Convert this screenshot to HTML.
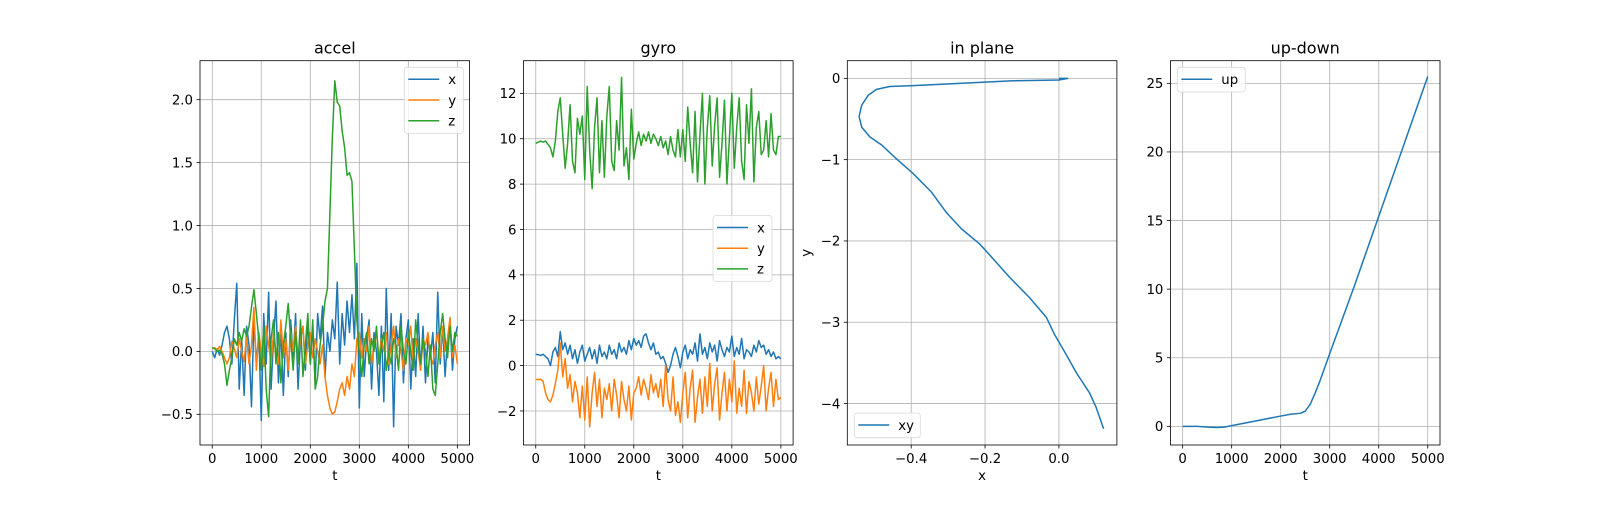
<!DOCTYPE html>
<html><head><meta charset="utf-8">
<style>
html,body{margin:0;padding:0;background:#fff;}
svg text{font-family:"DejaVu Sans","Liberation Sans",sans-serif;}
</style></head>
<body>
<svg id="fig" width="1600" height="500" viewBox="0 0 1600 500" xmlns="http://www.w3.org/2000/svg"></svg>
<script>
const tSteps = Array.from({length:101},(_, i)=>i*50);
const accelX = [0.0,-0.05,0.02,-0.03,0.05,0.15,0.2,0.1,-0.1,0.25,
0.54,-0.3,0.1,-0.35,0.2,0.05,-0.44,0.25,-0.1,0.15,
-0.55,0.3,-0.1,0.47,-0.3,0.1,0.4,-0.25,0.2,-0.35,
0.15,-0.2,0.25,-0.05,0.3,-0.3,0.1,0.2,-0.15,0.25,
-0.1,0.2,-0.25,0.3,0.1,0.36,-0.2,0.15,0.0,0.25,
0.1,0.55,-0.1,0.3,0.05,0.4,0.15,0.45,0.1,0.7,
-0.45,0.3,-0.2,0.1,0.25,-0.3,0.15,0.0,-0.35,0.2,
-0.4,0.5,-0.15,0.3,-0.6,0.2,0.05,0.3,-0.25,0.1,
0.25,-0.3,0.1,-0.2,0.3,-0.15,0.2,-0.25,0.1,-0.05,
0.15,-0.25,0.47,-0.1,0.2,-0.2,0.1,0.25,-0.15,0.1,0.2];
const accelY = [0.02,0.03,0.01,0.04,0.0,-0.05,-0.1,-0.05,0.08,0.02,
-0.05,0.1,0.0,-0.08,0.12,-0.1,0.05,0.35,-0.15,0.15,
0.0,-0.12,0.2,0.05,-0.1,0.15,0.0,-0.1,0.25,-0.05,
0.1,-0.15,0.15,0.0,0.2,-0.05,0.1,0.2,-0.1,0.05,
0.15,-0.05,0.1,0.0,-0.1,0.05,-0.2,-0.35,-0.45,-0.5,
-0.48,-0.4,-0.3,-0.25,-0.35,-0.2,-0.3,-0.1,-0.2,0.1,
0.15,-0.05,0.1,0.0,0.2,-0.1,0.05,0.15,-0.05,0.1,
0.0,0.15,-0.1,0.05,0.2,-0.05,0.1,0.0,-0.15,0.1,
0.05,0.2,-0.1,0.1,0.0,-0.15,0.1,0.05,0.15,-0.05,
-0.1,0.05,0.15,-0.05,0.2,0.0,0.1,0.27,-0.05,0.05,-0.1];
const accelZ = [0.03,0.02,0.0,0.01,-0.02,-0.1,-0.27,-0.15,-0.05,0.1,
0.05,0.15,0.08,0.18,0.12,0.2,0.35,0.49,0.3,0.1,
-0.15,0.2,-0.3,-0.52,0.1,0.25,-0.1,0.15,-0.25,0.05,
0.2,0.38,0.1,-0.15,0.15,-0.1,0.25,-0.2,0.05,0.3,
-0.1,0.25,-0.3,-0.2,0.05,0.2,0.4,0.5,1.1,1.7,
2.15,1.98,1.95,1.75,1.62,1.4,1.42,1.35,0.8,0.25,
0.0,-0.2,0.05,0.15,-0.1,0.1,0.0,0.2,-0.1,0.05,
0.15,-0.15,0.0,-0.1,0.1,0.05,-0.15,0.2,0.0,-0.1,
0.15,0.0,-0.15,0.25,0.05,-0.1,0.1,0.0,-0.2,0.05,
-0.3,-0.35,-0.1,0.15,0.3,0.1,-0.05,0.2,0.0,0.15,0.12];
const gyroX = [0.5,0.48,0.45,0.5,0.4,0.3,0.0,0.6,0.8,0.4,
1.5,0.7,1.0,0.5,0.9,0.3,0.7,0.1,0.6,0.9,
0.2,0.5,0.8,0.3,0.7,0.1,0.9,0.4,0.6,0.3,
0.9,0.5,0.7,0.3,1.0,0.6,0.8,0.5,1.1,0.7,
1.2,0.9,1.1,0.8,1.3,1.4,1.0,0.7,1.0,0.5,
0.6,0.3,0.4,0.1,-0.3,0.0,0.5,0.8,0.4,-0.1,
0.6,0.9,0.3,0.7,0.5,1.0,0.2,1.4,0.5,0.8,
0.3,1.0,0.6,0.9,0.2,1.1,0.7,0.4,0.8,0.6,
1.3,0.4,0.8,0.5,1.2,0.3,0.7,0.6,0.4,0.9,
0.6,1.1,0.8,0.9,0.5,0.7,0.4,0.6,0.3,0.4,0.3];
const gyroY = [-0.6,-0.62,-0.6,-0.7,-1.2,-1.5,-1.6,-1.3,-0.8,-0.2,
1.0,-0.5,0.3,-1.0,-0.4,-1.6,-0.7,-1.2,-2.3,-0.9,
-2.4,-0.5,-2.7,-1.2,-0.3,-1.8,-0.6,-2.3,-1.0,-1.5,
-0.8,-2.0,-0.6,-1.3,-2.3,-0.7,-1.5,-2.0,-0.9,-2.4,
-1.2,-1.0,-0.5,-1.3,-0.6,-1.0,-1.5,-0.4,-1.2,-0.8,
-1.4,-0.6,-1.8,0.0,-1.5,-2.0,-0.5,-2.2,-1.6,-2.5,
-1.2,-0.3,-2.3,-1.0,-0.2,-2.5,-1.4,-0.6,-2.1,-0.5,
-1.8,0.1,-2.0,-0.8,-0.1,-2.4,-1.2,-0.3,-2.0,-0.6,
-1.6,0.2,-2.1,-1.0,-1.8,-0.2,-2.1,-0.7,-1.2,-2.0,
-0.5,-1.7,-0.9,0.0,-2.0,-1.0,-0.3,-1.8,-0.6,-1.5,-1.4];
const gyroZ = [9.8,9.85,9.9,9.85,9.9,9.75,9.6,9.2,9.9,11.2,
11.8,10.2,8.7,9.8,11.5,9.0,8.5,10.9,10.2,11.0,
8.2,12.3,9.5,7.8,10.5,11.8,8.5,10.8,8.3,11.0,
12.3,9.0,8.6,10.8,9.5,12.7,8.8,9.6,8.2,11.3,
9.1,9.8,10.3,9.7,10.2,9.9,10.3,9.8,10.2,10.0,
9.7,10.1,9.6,9.9,9.3,10.1,9.5,9.2,10.4,9.2,
10.4,9.0,11.4,9.8,8.5,11.2,8.1,10.2,12.0,8.0,
10.5,11.9,8.8,10.6,11.8,8.3,9.8,11.7,8.0,10.0,
12.0,8.7,10.5,11.8,9.0,8.2,11.5,9.8,12.2,8.1,
10.5,11.2,9.3,9.5,10.8,9.2,11.1,9.5,9.3,10.1,10.1];
const planeX = [0,0.024,0,-0.124,-0.214,-0.395,-0.458,-0.494,-0.516,-0.534,-0.541,-0.534,-0.512,-0.48,-0.44,-0.395,-0.345,-0.305,-0.264,-0.214,-0.178,-0.133,-0.079,-0.034,-0.012,0.020,0.047,0.083,0.101,0.121];
const planeY = [0,0,-0.02,-0.03,-0.05,-0.09,-0.10,-0.136,-0.206,-0.33,-0.47,-0.60,-0.72,-0.82,-0.99,-1.17,-1.40,-1.65,-1.85,-2.04,-2.22,-2.45,-2.70,-2.94,-3.15,-3.40,-3.62,-3.87,-4.05,-4.31];
const upT = [0,300,500,700,850,1000,1500,2000,2200,2400,2500,2600,2700,2800,2900,3000,3500,4000,4500,5000];
const upV = [0,0,-0.05,-0.08,-0.06,0.05,0.4,0.75,0.88,0.95,1.1,1.6,2.4,3.3,4.3,5.3,10.2,15.3,20.4,25.5];
const tTicks = [0,1000,2000,3000,4000,5000];
const accelTicks = [-0.5,0.0,0.5,1.0,1.5,2.0];
const gyroTicks = [-2,0,2,4,6,8,10,12];
const planeXTicks = [-0.4,-0.2,0.0];
const planeYTicks = [-4,-3,-2,-1,0];
const upTicks = [0,5,10,15,20,25];

const NS="http://www.w3.org/2000/svg";
const svg=document.getElementById('fig');
function mk(tag,attrs,parent){const e=document.createElementNS(NS,tag);for(const k in attrs)e.setAttribute(k,attrs[k]);(parent||svg).appendChild(e);return e;}
function fmt(v,d){const s=v.toFixed(d);return s.replace('-','\u2212');}
const TOP=60.7,BOT=445,W=269.6;
const C1='#1f77b4',C2='#ff7f0e',C3='#2ca02c';

function panel(name,left,xlim,ylim,xt,xd,yt,yd,title,xlabel,ylabel){
  const g=mk('g',{});
  
  
  const right=left+W;
  const sx=v=>left+(v-xlim[0])/(xlim[1]-xlim[0])*W;
  const sy=v=>BOT-(v-ylim[0])/(ylim[1]-ylim[0])*(BOT-TOP);
  const grid=mk('g',{},g);
  
  
  xt.forEach(v=>{const x=sx(v);
    mk('line',{x1:x,x2:x,y1:TOP,y2:BOT,stroke:'#b0b0b0','stroke-width':0.8},grid);
    mk('line',{x1:x,x2:x,y1:BOT,y2:BOT+3.5,stroke:'#000','stroke-width':0.8},g);
    const t=mk('text',{x:x,y:BOT+18,'text-anchor':'middle','font-size':'13.3px',fill:'#000'},g);
    t.textContent=fmt(v,xd);
    
    
  });
  yt.forEach(v=>{const y=sy(v);
    mk('line',{x1:left,x2:right,y1:y,y2:y,stroke:'#b0b0b0','stroke-width':0.8},grid);
    mk('line',{x1:left-3.5,x2:left,y1:y,y2:y,stroke:'#000','stroke-width':0.8},g);
    const t=mk('text',{x:left-7,y:y+4.8,'text-anchor':'end','font-size':'13.3px',fill:'#000'},g);
    t.textContent=fmt(v,yd);
    
    
  });
  const tt=mk('text',{x:left+W/2,y:TOP-7,'text-anchor':'middle','font-size':'16px',fill:'#000'},g);
  tt.textContent=title;
  
  
  if(xlabel){const xl=mk('text',{x:left+W/2,y:BOT+35,'text-anchor':'middle','font-size':'13.3px',fill:'#000'},g);
    xl.textContent=xlabel;
    
    }
  if(ylabel){const yl=mk('text',{x:0,y:0,'text-anchor':'middle','font-size':'13.3px',fill:'#000',transform:`translate(${left-37},${(TOP+BOT)/2}) rotate(-90)`},g);
    yl.textContent=ylabel;
    
    }
  const clipId='clip-'+name;
  const cp=mk('clipPath',{id:clipId},g);mk('rect',{x:left,y:TOP,width:W,height:BOT-TOP},cp);
  const plot=mk('g',{'clip-path':`url(#${clipId})`},g);
  return {g,plot,sx,sy,left,right,frame:()=>{const f=mk('rect',{x:left,y:TOP,width:W,height:BOT-TOP,fill:'none',stroke:'#000','stroke-width':0.8},g);
    
    }};
}
function line(p,xs,ys,color,nm){
  const d=xs.map((x,i)=>(i?'L':'M')+p.sx(x).toFixed(2)+','+p.sy(ys[i]).toFixed(2)).join(' ');
  const e=mk('path',{d:d,fill:'none',stroke:color,'stroke-width':1.5,'stroke-linejoin':'round'},p.plot);
  
  
}
function legend(p,x,y,w,entries,nm){
  const h=entries.length*20.7+4;
  const lg=mk('g',{},p.g);
  
  
  mk('rect',{x:x,y:y,width:w,height:h,rx:3,fill:'#fff','fill-opacity':0.8,stroke:'#d9d9d9','stroke-width':0.8},lg);
  entries.forEach((en,i)=>{const cy=y+12+i*20.7;
    mk('line',{x1:x+4,x2:x+35,y1:cy,y2:cy,stroke:en[1],'stroke-width':1.5},lg);
    const t=mk('text',{x:x+44,y:cy+4.8,'font-size':'13.3px',fill:'#000'},lg);
    t.textContent=en[0];
    
    
  });
}
// accel
const pa=panel('accel',200,[-250,5250],[-0.744,2.31],tTicks,0,accelTicks,1,'accel','t','');
line(pa,tSteps,accelX,C1,'accel-x-line');
line(pa,tSteps,accelY,C2,'accel-y-line');
line(pa,tSteps,accelZ,C3,'accel-z-line');
pa.frame();
legend(pa,404.3,67.3,59,[['x',C1],['y',C2],['z',C3]],'accel-legend');
// gyro
const pg=panel('gyro',523.5,[-250,5250],[-3.5,13.44],tTicks,0,gyroTicks,0,'gyro','t','');
line(pg,tSteps,gyroX,C1,'gyro-x-line');
line(pg,tSteps,gyroY,C2,'gyro-y-line');
line(pg,tSteps,gyroZ,C3,'gyro-z-line');
pg.frame();
legend(pg,713,215.5,59,[['x',C1],['y',C2],['z',C3]],'gyro-legend');
// in plane
const pp=panel('in-plane',847.3,[-0.573,0.157],[-4.51,0.217],planeXTicks,1,planeYTicks,0,'in plane','x','y');
line(pp,planeX,planeY,C1,'xy-line');
pp.frame();
legend(pp,854.3,413,66,[['xy',C1]],'in-plane-legend');
// up-down
const pu=panel('up-down',1170.4,[-250,5250],[-1.36,26.65],tTicks,0,upTicks,0,'up-down','t','');
line(pu,upT,upV,C1,'up-line');
pu.frame();
legend(pu,1177.3,67.3,68,[['up',C1]],'up-down-legend');
</script>
</body></html>
